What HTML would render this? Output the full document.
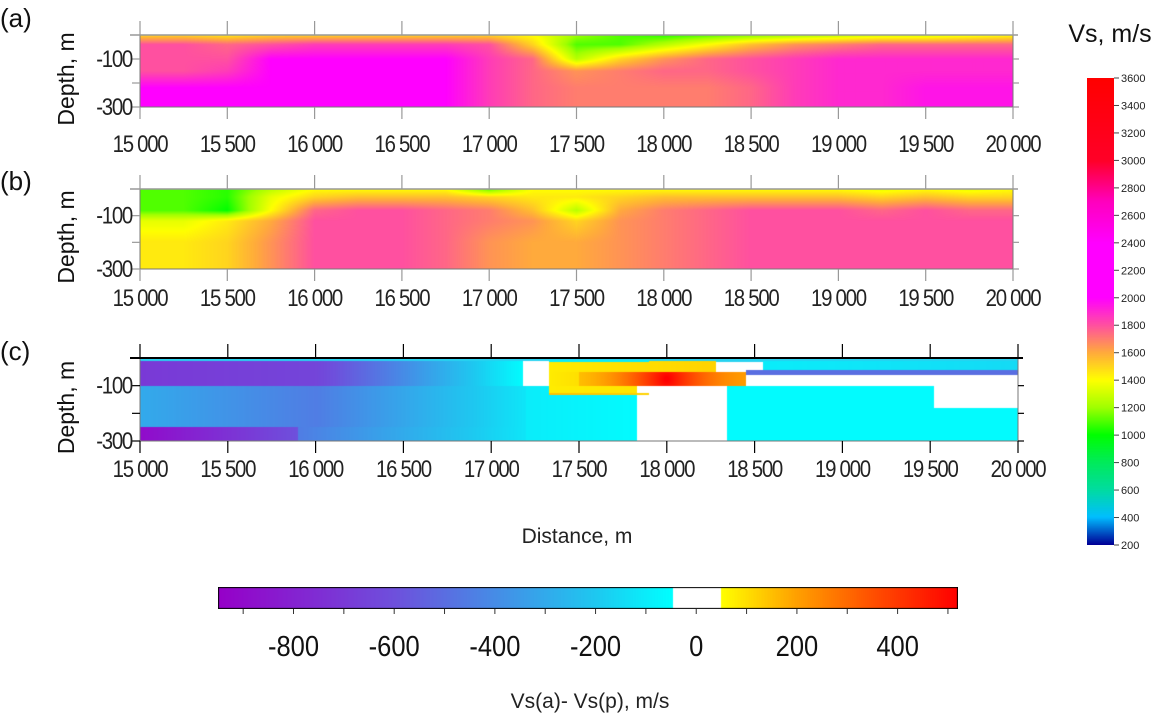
<!DOCTYPE html>
<html><head><meta charset="utf-8">
<style>
html,body{margin:0;padding:0;background:#fff;}
#root{position:relative;width:1173px;height:720px;overflow:hidden;font-family:"Liberation Sans",sans-serif;}
canvas{position:absolute;}
svg{position:absolute;left:0;top:0;}
</style></head>
<body>
<div id="root">
<canvas id="ca" width="873" height="72" style="left:140px;top:35px"></canvas>
<canvas id="cb" width="873" height="80" style="left:140px;top:189px"></canvas>
<canvas id="cc" width="878" height="83" style="left:140px;top:358px"></canvas>
<canvas id="cbar" width="27" height="467" style="left:1087px;top:78px"></canvas>
<canvas id="dbar" width="740" height="22" style="left:218px;top:587px"></canvas>
<svg id="ov" width="1173" height="720"></svg>
</div>
<script>
// ---- data ----
const xCats=[15000,15250,15500,15750,16000,16250,16500,16750,17000,17250,17500,17750,18000,18250,18500,18750,19000,19250,19500,19750,20000];
const depthsA=[0,-40,-100,-150,-220,-300];
const vsA0=[1500,1500,1450,1500,1500,1500,1500,1500,1500,1400,1200,1100,1050,1100,1150,1200,1250,1300,1300,1350,1400];
const vsA1=[1800,1800,1750,1800,1850,1850,1850,1850,1800,1500,1100,1100,1250,1400,1550,1650,1700,1750,1750,1750,1750];
const vsA2=[1800,1800,1800,2000,2000,2000,2000,2000,1850,1750,1250,1500,1650,1750,1800,1850,1900,1900,1900,1900,1900];
const vsA3=[1800,1800,1850,2000,2000,2000,2000,2000,1850,1750,1650,1700,1750,1750,1800,1850,1900,1900,1900,1900,1900];
const vsA4=[2000,2000,2000,2000,2000,2000,2000,2000,1850,1750,1700,1700,1700,1700,1750,1850,1900,1900,1950,1950,1950];
const vsA5=[2000,2000,2000,2000,2000,2000,2000,2000,1850,1750,1700,1700,1700,1700,1750,1850,1900,1900,1950,1950,1950];
const depthsB=[0,-30,-80,-120,-200,-300];
const vsB0=[1100,1100,1050,1250,1400,1400,1400,1400,1100,1400,1400,1400,1400,1400,1400,1400,1400,1350,1400,1350,1400];
const vsB1=[1100,1100,1050,1350,1500,1550,1550,1550,1500,1450,1450,1500,1550,1550,1550,1550,1550,1500,1550,1500,1500];
const vsB2=[1100,1100,1000,1400,1750,1800,1800,1750,1700,1550,1250,1600,1700,1750,1800,1800,1800,1750,1800,1750,1750];
const vsB3=[1350,1350,1450,1600,1800,1800,1800,1750,1700,1650,1500,1650,1700,1750,1800,1800,1800,1800,1800,1800,1800];
const vsB4=[1450,1450,1500,1650,1800,1800,1800,1750,1650,1600,1600,1650,1700,1750,1800,1800,1800,1800,1800,1800,1800];
const vsB5=[1450,1450,1500,1650,1800,1800,1800,1750,1650,1600,1600,1650,1700,1750,1800,1800,1800,1800,1800,1800,1800];
// panel c blocks
const diffX0=[15000,16000,17180,17330,17330,17500,18550,18450,15000,16000,15000,15900,17200,17330,17330,18340,19520,17330];
const diffX1=[16000,17180,17330,18280,17500,18450,20000,20000,16000,17200,15900,17200,17830,17830,17900,19520,20000,17900];
const diffTop=[-10,-10,-10,-10,-50,-50,-10,-45,-100,-100,-250,-250,-100,-100,-125,-100,-180,-8];
const diffBot=[-100,-100,-100,-50,-100,-100,-45,-60,-250,-250,-300,-300,-300,-125,-135,-300,-300,-15];
const diffV0=[-700,-650,null,80,80,150,-100,-500,-300,-450,-900,-450,-100,80,150,-60,-60,-100];
const diffV1=[-650,-60,null,120,100,200,-150,-500,-450,-120,-600,-120,-60,90,120,-60,-60,-100];
const xTicks=[15000,15500,16000,16500,17000,17500,18000,18500,19000,19500,20000];
const xTickLabels=["15 000","15 500","16 000","16 500","17 000","17 500","18 000","18 500","19 000","19 500","20 000"];
const vsTicks=[3600,3400,3200,3000,2800,2600,2400,2200,2000,1800,1600,1400,1200,1000,800,600,400,200];
const diffTicks=[-800,-600,-400,-200,0,200,400];
// ---- colormaps ----
const vsStops=[[200,[0,0,150]],[400,[0,190,255]],[600,[0,220,160]],[800,[0,235,90]],[1000,[0,255,0]],[1200,[160,255,0]],[1400,[255,255,0]],[1600,[255,170,60]],[1800,[255,80,160]],[2000,[255,0,255]],[2400,[255,0,255]],[2700,[255,0,190]],[3000,[255,0,40]],[3600,[255,0,0]]];
const dStops=[[-950,[150,0,200]],[-600,[110,80,220]],[-400,[70,140,230]],[-200,[30,200,240]],[-50,[0,255,255]]];
const dStopsP=[[50,[255,255,0]],[200,[255,160,0]],[350,[255,80,0]],[520,[255,0,0]]];
function interp(stops,v){if(v<=stops[0][0])return stops[0][1];for(let i=1;i<stops.length;i++){if(v<=stops[i][0]){const t=(v-stops[i-1][0])/(stops[i][0]-stops[i-1][0]);const a=stops[i-1][1],b=stops[i][1];return [a[0]+(b[0]-a[0])*t,a[1]+(b[1]-a[1])*t,a[2]+(b[2]-a[2])*t];}}return stops[stops.length-1][1];}
function dColor(v){if(v===null)return [255,255,255];if(v>-45&&v<50)return [255,255,255];return v<0?interp(dStops,v):interp(dStopsP,v);}
function xs(x,w){return (x-15000)/5000*w;}
function paintGrid(id,depths,rows){
  const c=document.getElementById(id),ctx=c.getContext('2d'),W=c.width,H=c.height;
  const img=ctx.createImageData(W,H);
  for(let py=0;py<H;py++){const d=-(py+0.5)/H*300;let r=0;while(r<depths.length-2&&d<depths[r+1])r++;
    const tr=Math.min(1,Math.max(0,(depths[r]-d)/(depths[r]-depths[r+1])));
    for(let px=0;px<W;px++){const x=15000+(px+0.5)/W*5000;let k=Math.min(xCats.length-2,Math.floor((x-15000)/250));const tx=(x-xCats[k])/250;
      const v0=rows[r][k]*(1-tx)+rows[r][k+1]*tx,v1=rows[r+1][k]*(1-tx)+rows[r+1][k+1]*tx;const v=v0*(1-tr)+v1*tr;
      const col=interp(vsStops,v);const o=(py*W+px)*4;img.data[o]=col[0];img.data[o+1]=col[1];img.data[o+2]=col[2];img.data[o+3]=255;}}
  ctx.putImageData(img,0,0);
}
paintGrid('ca',depthsA,[vsA0,vsA1,vsA2,vsA3,vsA4,vsA5]);
paintGrid('cb',depthsB,[vsB0,vsB1,vsB2,vsB3,vsB4,vsB5]);
(function(){const c=document.getElementById('cc'),ctx=c.getContext('2d'),W=c.width,H=c.height;
  ctx.fillStyle='#fff';ctx.fillRect(0,0,W,H);
  ctx.fillStyle='rgb(40,210,240)';ctx.fillRect(0,0,W,4);
  for(let i=0;i<diffX0.length;i++){const px0=Math.round(xs(diffX0[i],W)),px1=Math.round(xs(diffX1[i],W));
    const py0=Math.round(-diffTop[i]/300*H),py1=Math.round(-diffBot[i]/300*H);
    for(let px=px0;px<px1;px++){const t=(px-px0)/Math.max(1,px1-px0-1);const v=diffV0[i]===null?null:diffV0[i]+(diffV1[i]-diffV0[i])*t;
      const col=dColor(v);ctx.fillStyle='rgb('+col.map(Math.round).join(',')+')';ctx.fillRect(px,py0,1,py1-py0);}}
  const cx=xs(18000,W),cy=Math.round(75/300*H);
  const g=ctx.createRadialGradient(cx,cy,2,cx,cy,90);
  ctx.save();ctx.beginPath();ctx.rect(xs(17500,W),Math.round(50/300*H),xs(18450,W)-xs(17500,W),Math.round(50/300*H));ctx.clip();
  g.addColorStop(0,'rgba(255,0,0,1)');g.addColorStop(1,'rgba(255,140,0,0)');ctx.fillStyle=g;ctx.fillRect(0,0,W,H);ctx.restore();
})();
(function(){const c=document.getElementById('cbar'),ctx=c.getContext('2d');for(let py=0;py<c.height;py++){const v=3600-py/(c.height-1)*3400;const col=interp(vsStops,v);ctx.fillStyle='rgb('+col.map(Math.round).join(',')+')';ctx.fillRect(0,py,c.width,1);}})();
(function(){const c=document.getElementById('dbar'),ctx=c.getContext('2d');for(let px=0;px<c.width;px++){const v=-950+px/(c.width-1)*1470;const col=dColor(v);ctx.fillStyle='rgb('+col.map(Math.round).join(',')+')';ctx.fillRect(px,0,1,c.height);}
  ctx.strokeStyle='#000';ctx.strokeRect(0.5,0.5,c.width-1,c.height-1);})();
// ---- overlay ----
const NS='http://www.w3.org/2000/svg',ov=document.getElementById('ov');
function el(tag,attrs,text){const e=document.createElementNS(NS,tag);for(const k in attrs)e.setAttribute(k,attrs[k]);if(text!==undefined)e.textContent=text;ov.appendChild(e);return e;}
const panels=[{lab:'(a)',ly:27,x0:140,x1:1013,top:35,bot:107,tl:152,name:'a'},{lab:'(b)',ly:190,x0:140,x1:1013,top:189,bot:269,tl:306,name:'b'},{lab:'(c)',ly:360,x0:140,x1:1018,top:358,bot:441,tl:477,name:'c'}];
panels.forEach(p=>{
  let t=el('text',{x:0,y:p.ly,'font-size':26,fill:'#111'},p.lab);
  const cy=(p.top+p.bot)/2+8;
  t=el('text',{x:0,y:0,'font-size':23,fill:'#111','text-anchor':'middle',transform:'translate(74,'+cy+') rotate(-90)'},'Depth, m');
  const fr=el('rect',{x:p.x0,y:p.top,width:p.x1-p.x0,height:p.bot-p.top,fill:'none',stroke:'#777','stroke-width':1});
  const dark=p.name==='c'?'#000':'#999';
  el('line',{x1:p.x0-10,y1:p.top,x2:p.x1+5,y2:p.top,stroke:dark,'stroke-width':p.name==='c'?2:1.5});
  xTicks.forEach((xv,i)=>{const x=p.x0+xs(xv,p.x1-p.x0);
    el('line',{x1:x,y1:p.top-14,x2:x,y2:p.top,stroke:dark,'stroke-width':1.2});
    el('line',{x1:x,y1:p.bot,x2:x,y2:p.bot+12,stroke:dark,'stroke-width':1.2});
    const lt=el('text',{x:0,y:0,'font-size':24,fill:'#222','text-anchor':'middle','letter-spacing':'-1.5',transform:'translate('+x+','+p.tl+') scale(0.85,1)'},xTickLabels[i]);});
  [-100,-200,-300].forEach(d=>{const y=p.top+(-d/300)*(p.bot-p.top);
    el('line',{x1:p.x0-8,y1:y,x2:p.x0,y2:y,stroke:dark,'stroke-width':1.2});
    el('line',{x1:p.x1,y1:y,x2:p.x1+6,y2:y,stroke:dark,'stroke-width':1.2});
    if(d!==-200){const lt=el('text',{x:0,y:0,'font-size':24,fill:'#222','text-anchor':'end','letter-spacing':'-1.5',transform:'translate('+(p.x0-8)+','+(y+8)+') scale(0.85,1)'},String(d));}});
});
let tt=el('text',{x:577,y:543,'font-size':21,fill:'#222','text-anchor':'middle'},'Distance, m');
tt=el('text',{x:1110,y:42,'font-size':25,fill:'#111','text-anchor':'middle'},'Vs, m/s');
vsTicks.forEach(v=>{const y=78+(3600-v)/3400*467;el('line',{x1:1114,y1:y,x2:1119,y2:y,stroke:'#444'});
  const t=el('text',{x:1121,y:y+4,'font-size':11,fill:'#222'},String(v));});
function dx(v){return 218+(v+950)/1470*740;}
for(let v=-900;v<=500;v+=100){el('line',{x1:dx(v),y1:609,x2:dx(v),y2:614,stroke:'#333'});}
diffTicks.forEach(v=>{const t=el('text',{x:0,y:0,'font-size':29,fill:'#111','text-anchor':'middle',transform:'translate('+dx(v)+',656) scale(0.88,1)'},String(v));});
tt=el('text',{x:590,y:708,'font-size':21,fill:'#222','text-anchor':'middle'},'Vs(a)- Vs(p), m/s');
</script>
</body></html>
